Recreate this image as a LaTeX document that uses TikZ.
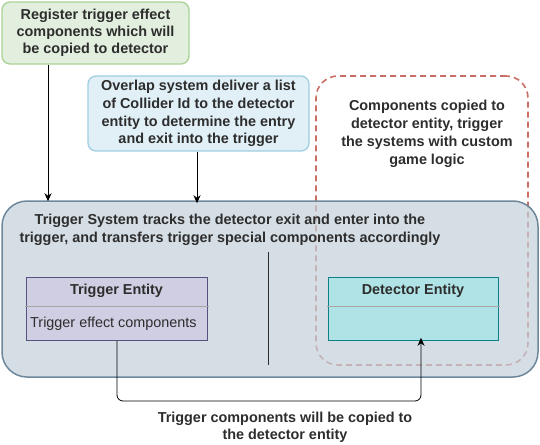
\documentclass[tikz,border=0pt]{standalone}
\usepackage{fontspec}
\setmainfont{Liberation Sans}
\usetikzlibrary{arrows.meta}

\definecolor{regfill}{RGB}{226,239,222}
\definecolor{regline}{RGB}{170,210,150}
\definecolor{ovlfill}{RGB}{225,240,247}
\definecolor{ovlline}{RGB}{160,205,225}
\definecolor{sysfill}{RGB}{196,208,218}
\definecolor{sysline}{RGB}{110,135,155}
\definecolor{trigfill}{RGB}{208,206,226}
\definecolor{trigline}{RGB}{86,81,126}
\definecolor{detfill}{RGB}{176,227,230}
\definecolor{detline}{RGB}{14,128,136}
\definecolor{copyline}{RGB}{200,110,100}
\definecolor{txt}{RGB}{45,45,45}

\tikzset{
  note/.style={draw, line width=1.3pt, rounded corners=8pt, inner sep=0pt, align=center},
  lbl/.style={inner sep=0pt, align=center, text=txt, font=\fontsize{14.4}{18}\selectfont\bfseries},
  entity/.style={draw, line width=0.8pt, inner sep=0pt, anchor=north west},
  arr/.style={-{Stealth[length=8pt,width=7pt,inset=2.5pt]}, line width=0.8pt},
}

\begin{document}
\begin{tikzpicture}[x=1pt,y=-1pt]
\useasboundingbox (0,0) rectangle (540,444);

% Dashed area for copied components
\node [note, draw=copyline, dash pattern=on 6pt off 4pt, line width=1.6pt, rounded corners=22pt,
  minimum width=212pt, minimum height=289pt] (copied) at (422,220.5) {};

% Trigger system
\node [note, draw=sysline, fill=sysfill, fill opacity=0.7, line width=1.5pt, rounded corners=25pt,
  minimum width=536pt, minimum height=176pt] (sysbox) at (270,289) {};
\node [lbl] (systext) at (230,230) {Trigger System tracks the detector exit and enter into the\\trigger, and transfers trigger special components accordingly};
\draw [line width=1pt, txt] (268,252) -- (268,365);

% Notes at the top
\node [note, draw=regline, fill=regfill, minimum width=187pt, minimum height=62pt] (register) at (95.5,33) {};
\node [lbl, font=\fontsize{14.4}{17}\selectfont\bfseries] (regtext) at (register) {Register trigger effect\\components which will\\be copied to detector};
\node [note, draw=ovlline, fill=ovlfill, minimum width=221pt, minimum height=75pt] (overlap) at (198.5,113.5) {};
\node [lbl, font=\fontsize{14.4}{17.7}\selectfont\bfseries] (ovltext) at (overlap) {Overlap system deliver a list\\of Collider Id to the detector\\entity to determine the entry\\and exit into the trigger};
\node [lbl] (copytext) at (427,133.5) {Components copied to\\detector entity, trigger\\the systems with custom\\game logic};

% Entities
\node [entity, draw=trigline, fill=trigfill, minimum width=181pt, minimum height=63pt] (trig) at (26,277) {};
\draw [gray!70, line width=0.8pt] (25,306) -- (209,306);
\node [lbl] (trighead) at (116.5,291) {Trigger Entity};
\node [lbl, font=\fontsize{14.4}{17}\selectfont, anchor=west] (trigbody) at (30,324) {Trigger effect components};

\node [entity, draw=detline, fill=detfill, minimum width=170pt, minimum height=63pt] (det) at (328,277) {};
\draw [gray!70, line width=0.8pt] (327,306) -- (500,306);
\node [lbl] (dethead) at (413,291) {Detector Entity};

% Connectors
\coordinate (regx) at (48,0);
\coordinate (ovlx) at (197,0);
\draw [arr] (register.south -| regx) -- ([yshift=-1pt]sysbox.north -| regx);
\draw [arr] (overlap.south -| ovlx) -- ([yshift=-3pt]sysbox.north -| ovlx);

\coordinate (trigx) at (117,0);
\coordinate (detx) at (421,0);
\coordinate (low) at (0,401);
\draw [arr, rounded corners=6pt] (trig.south -| trigx) -- (low -| trigx) -- (low -| detx) -- ([yshift=3pt]det.south -| detx);
\node [lbl, font=\fontsize{14.4}{17}\selectfont\bfseries] (copiedtext) at (285,427.5) {Trigger components will be copied to\\the detector entity};

\end{tikzpicture}
\end{document}
